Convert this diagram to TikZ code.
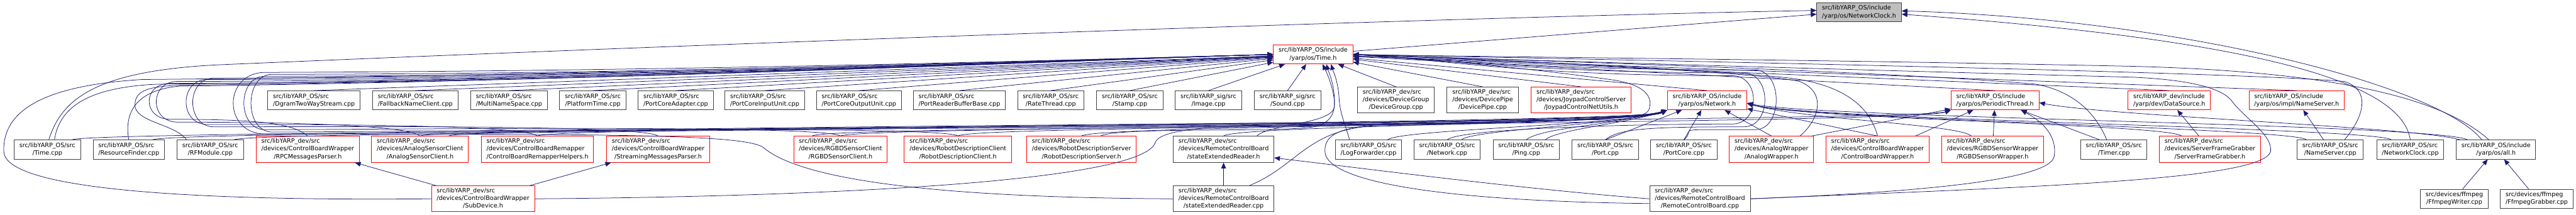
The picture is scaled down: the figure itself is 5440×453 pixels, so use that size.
\documentclass[tikz,border=0pt]{standalone}
\usepackage{fontspec}
\setmainfont{DejaVu Sans}
\usepackage{xcolor}
\usepackage{tikz}
\usetikzlibrary{arrows.meta,calc}

\definecolor{edgeblue}{HTML}{191970}
\definecolor{boxline}{HTML}{404040}
\definecolor{rootgray}{HTML}{BFBFBF}

% first lines flush left, last line centred (doxygen labels)
\newcommand{\flbl}[2]{\begin{tabular}{@{}l@{}}#1\\\multicolumn{1}{@{}c@{}}{#2}\end{tabular}}

\begin{document}
\begin{tikzpicture}[x=1pt,y=-1pt,>={Triangle[length=12pt,width=10pt]}]
  \tikzstyle{srcbox}=[draw=boxline,fill=white,line width=1.3pt,inner xsep=11pt,inner ysep=0pt,minimum height=40pt,font=\fontsize{12.8}{16}\selectfont]
  \tikzstyle{tallbox}=[srcbox,minimum height=55pt]
  \tikzstyle{trunc}=[draw=red]
  \tikzstyle{rootbox}=[fill=rootgray]
  \tikzstyle{incl}=[->,draw=edgeblue,line width=1pt]
  \useasboundingbox (0,0) rectangle (5440,453);

  % top
  \node[srcbox,rootbox] (ncH) at (3926,26) {\flbl{src/libYARP\_OS/include}{/yarp/os/NetworkClock.h}};
  \node[srcbox,trunc] (timeH) at (2773,115) {\flbl{src/libYARP\_OS/include}{/yarp/os/Time.h}};

  % row 3
  \node[srcbox] (dgram) at (663,212) {\flbl{src/libYARP\_OS/src}{/DgramTwoWayStream.cpp}};
  \node[srcbox] (fallback) at (877,212) {\flbl{src/libYARP\_OS/src}{/FallbackNameClient.cpp}};
  \node[srcbox] (multins) at (1075,212) {\flbl{src/libYARP\_OS/src}{/MultiNameSpace.cpp}};
  \node[srcbox] (plattime) at (1252,212) {\flbl{src/libYARP\_OS/src}{/PlatformTime.cpp}};
  \node[srcbox] (pcadapt) at (1427,212) {\flbl{src/libYARP\_OS/src}{/PortCoreAdapter.cpp}};
  \node[srcbox] (pcin) at (1615,212) {\flbl{src/libYARP\_OS/src}{/PortCoreInputUnit.cpp}};
  \node[srcbox] (pcout) at (1814,212) {\flbl{src/libYARP\_OS/src}{/PortCoreOutputUnit.cpp}};
  \node[srcbox] (prbb) at (2026,212) {\flbl{src/libYARP\_OS/src}{/PortReaderBufferBase.cpp}};
  \node[srcbox] (ratethr) at (2219,212) {\flbl{src/libYARP\_OS/src}{/RateThread.cpp}};
  \node[srcbox] (stamp) at (2386,212) {\flbl{src/libYARP\_OS/src}{/Stamp.cpp}};
  \node[srcbox] (image) at (2552,212) {\flbl{src/libYARP\_sig/src}{/Image.cpp}};
  \node[srcbox] (sound) at (2719,212) {\flbl{src/libYARP\_sig/src}{/Sound.cpp}};
  \node[tallbox] (devgroup) at (2948,211.5) {\flbl{src/libYARP\_dev/src\\/devices/DeviceGroup}{/DeviceGroup.cpp}};
  \node[tallbox] (devpipe) at (3131,211.5) {\flbl{src/libYARP\_dev/src\\/devices/DevicePipe}{/DevicePipe.cpp}};
  \node[tallbox,trunc] (joypad) at (3339,211.5) {\flbl{src/libYARP\_dev/src\\/devices/JoypadControlServer}{/JoypadControlNetUtils.h}};
  \node[srcbox,trunc] (netH) at (3605,212) {\flbl{src/libYARP\_OS/include}{/yarp/os/Network.h}};
  \node[srcbox,trunc] (perthrH) at (4213,212) {\flbl{src/libYARP\_OS/include}{/yarp/os/PeriodicThread.h}};
  \node[srcbox,trunc] (datasrcH) at (4581,212) {\flbl{src/libYARP\_dev/include}{/yarp/dev/DataSource.h}};
  \node[srcbox,trunc] (nsH) at (4850,212) {\flbl{src/libYARP\_OS/include}{/yarp/os/impl/NameServer.h}};

  % row 4
  \node[srcbox] (timecpp) at (100,316) {\flbl{src/libYARP\_OS/src}{/Time.cpp}};
  \node[srcbox] (resfind) at (272,316) {\flbl{src/libYARP\_OS/src}{/ResourceFinder.cpp}};
  \node[srcbox] (rfmod) at (444,316) {\flbl{src/libYARP\_OS/src}{/RFModule.cpp}};
  \node[tallbox,trunc] (rpcparse) at (650,315.5) {\flbl{src/libYARP\_dev/src\\/devices/ControlBoardWrapper}{/RPCMessagesParser.h}};
  \node[tallbox,trunc] (ansclient) at (887,315.5) {\flbl{src/libYARP\_dev/src\\/devices/AnalogSensorClient}{/AnalogSensorClient.h}};
  \node[tallbox,trunc] (cbremap) at (1135,315.5) {\flbl{src/libYARP\_dev/src\\/devices/ControlBoardRemapper}{/ControlBoardRemapperHelpers.h}};
  \node[tallbox,trunc] (streampar) at (1390,315.5) {\flbl{src/libYARP\_dev/src\\/devices/ControlBoardWrapper}{/StreamingMessagesParser.h}};
  \node[tallbox,trunc] (rgbdclient) at (1775,315.5) {\flbl{src/libYARP\_dev/src\\/devices/RGBDSensorClient}{/RGBDSensorClient.h}};
  \node[tallbox,trunc] (rdclient) at (2023,315.5) {\flbl{src/libYARP\_dev/src\\/devices/RobotDescriptionClient}{/RobotDescriptionClient.h}};
  \node[tallbox,trunc] (rdserver) at (2284,315.5) {\flbl{src/libYARP\_dev/src\\/devices/RobotDescriptionServer}{/RobotDescriptionServer.h}};
  \node[tallbox] (serH) at (2584,315.5) {\flbl{src/libYARP\_dev/src\\/devices/RemoteControlBoard}{/stateExtendedReader.h}};
  \node[srcbox] (logfwd) at (2890,316) {\flbl{src/libYARP\_OS/src}{/LogForwarder.cpp}};
  \node[srcbox] (netcpp) at (3056,316) {\flbl{src/libYARP\_OS/src}{/Network.cpp}};
  \node[srcbox] (ping) at (3223,316) {\flbl{src/libYARP\_OS/src}{/Ping.cpp}};
  \node[srcbox] (portcpp) at (3390,316) {\flbl{src/libYARP\_OS/src}{/Port.cpp}};
  \node[srcbox] (portcore) at (3556,316) {\flbl{src/libYARP\_OS/src}{/PortCore.cpp}};
  \node[tallbox,trunc] (anwrap) at (3741,315.5) {\flbl{src/libYARP\_dev/src\\/devices/AnalogWrapper}{/AnalogWrapper.h}};
  \node[tallbox,trunc] (cbwrap) at (3965,315.5) {\flbl{src/libYARP\_dev/src\\/devices/ControlBoardWrapper}{/ControlBoardWrapper.h}};
  \node[tallbox,trunc] (rgbdwrap) at (4208,315.5) {\flbl{src/libYARP\_dev/src\\/devices/RGBDSensorWrapper}{/RGBDSensorWrapper.h}};
  \node[srcbox] (timer) at (4464,316) {\flbl{src/libYARP\_OS/src}{/Timer.cpp}};
  \node[tallbox,trunc] (sfg) at (4667,315.5) {\flbl{src/libYARP\_dev/src\\/devices/ServerFrameGrabber}{/ServerFrameGrabber.h}};
  \node[srcbox] (nscpp) at (4921,316) {\flbl{src/libYARP\_OS/src}{/NameServer.cpp}};
  \node[srcbox] (ncCpp) at (5090,316) {\flbl{src/libYARP\_OS/src}{/NetworkClock.cpp}};
  \node[srcbox] (allH) at (5271,316) {\flbl{src/libYARP\_OS/include}{/yarp/os/all.h}};

  % row 5
  \node[tallbox,trunc] (subdev) at (1020,420) {\flbl{src/libYARP\_dev/src\\/devices/ControlBoardWrapper}{/SubDevice.h}};
  \node[tallbox] (sercpp) at (2584,420) {\flbl{src/libYARP\_dev/src\\/devices/RemoteControlBoard}{/stateExtendedReader.cpp}};
  \node[tallbox] (rcbcpp) at (3590,420) {\flbl{src/libYARP\_dev/src\\/devices/RemoteControlBoard}{/RemoteControlBoard.cpp}};
  \node[srcbox] (ffw) at (5183,420) {\flbl{src/devices/ffmpeg}{/FfmpegWriter.cpp}};
  \node[srcbox] (ffg) at (5357,420) {\flbl{src/devices/ffmpeg}{/FfmpegGrabber.cpp}};

  % into NetworkClock.h
  \draw[incl] (timeH) -- ([yshift=-4pt]ncH.west);
  \draw[incl] ([xshift=3pt]timecpp.north) .. controls (130,210) and (200,150) .. (460,137) .. controls (1600,88) and (3100,36) .. ([yshift=4pt]ncH.west);
  \draw[incl] (ncCpp.north) .. controls (5070,160) and (4700,80) .. ([yshift=-4pt]ncH.east);
  \draw[incl] ([xshift=-30pt]allH.north) .. controls (5150,180) and (4600,40) .. ([yshift=3pt]ncH.east);

  % into Time.h
  \foreach \s in {dgram,fallback,multins,plattime,pcadapt,pcin,pcout,prbb,ratethr,stamp,image,sound,devgroup,devpipe,joypad,netH,perthrH,datasrcH,nsH}
    \draw[incl] (\s.north) -- (timeH);
  \draw[incl] ([xshift=15pt]timecpp.north) .. controls (125,230) and (180,185) .. (330,178) .. controls (1300,168) and (2350,124) .. (timeH.west);
  \draw[incl] (resfind.north) .. controls (262,240) and (285,190) .. (380,182) .. controls (1300,170) and (2350,124) .. (timeH.west);
  \draw[incl] ([xshift=-50pt]rfmod.north) .. controls (370,262) and (285,258) .. (285,222) .. controls (285,190) and (315,183) .. (380,180) .. controls (1300,170) and (2350,124) .. (timeH.west);
  \foreach \s/\lx/\cy/\uy in {rpcparse/300/252/176,ansclient/315/258/172,cbremap/378/263/168,streampar/392/268/165,rgbdclient/500/274/161,rdclient/515/279/157}
    \draw[incl] (\s.north) .. controls +(-30,-25) and (\lx+260,\cy) .. (\lx+60,\cy) .. controls (\lx,\cy) and (\lx,\uy) .. (\lx+60,\uy) .. controls (\lx+900,\uy) and (2350,124) .. (timeH.west);
  \draw[incl] (subdev.west) .. controls (400,425) and (10,400) .. (8,320) .. controls (5,230) and (100,180) .. (300,168) .. controls (1200,160) and (2350,124) .. (timeH.west);
  \draw[incl] (sercpp.west) .. controls (2050,418) and (1700,390) .. (1610,310) .. controls (1560,284) and (1300,283) .. (560,283) .. controls (470,283) and (470,153) .. (560,153) .. controls (1500,150) and (2350,124) .. (timeH.west);
  \draw[incl] ([xshift=40pt]rdserver.north) .. controls (2360,268) and (2700,280) .. (2775,268) .. controls (2820,258) and (2822,225) .. (2815,195) .. controls (2808,165) and (2800,150) .. ([xshift=20pt]timeH.south);
  \draw[incl] ([xshift=70pt]serH.north) .. controls (2680,262) and (2815,262) .. (2818,225) .. controls (2820,180) and (2805,150) .. ([xshift=28pt]timeH.south);
  \draw[incl] ([xshift=-40pt]logfwd.north) .. controls (2840,260) and (2830,240) .. (2828,210) .. controls (2826,170) and (2815,150) .. ([xshift=38pt]timeH.south);
  \draw[incl] (ping.north) .. controls (3260,265) and (3470,262) .. (3482,232) .. controls (3492,205) and (3475,178) .. (3400,168) .. controls (3200,140) and (3000,124) .. (timeH.east);
  \foreach \s/\gx/\cy/\uy in {netcpp/3718/262/160,portcpp/3742/268/154,portcore/3766/274/148}
    \draw[incl] (\s.north) .. controls +(30,-25) and (\gx-250,\cy) .. (\gx-60,\cy) .. controls (\gx,\cy) and (\gx,\uy) .. (\gx-60,\uy) .. controls (\gx-500,\uy) and (3050,126) .. (timeH.east);
  \draw[incl] ([xshift=60pt]anwrap.north) .. controls (3840,255) and (3860,195) .. (3800,172) .. controls (3700,150) and (3100,125) .. (timeH.east);
  \draw[incl] (cbwrap.north) .. controls (3950,230) and (3900,180) .. (3780,165) .. controls (3600,145) and (3100,124) .. (timeH.east);
  \draw[incl] ([xshift=-15pt]timer.north) .. controls (4430,250) and (4390,195) .. (4300,178) .. controls (4000,150) and (3100,124) .. (timeH.east);
  \draw[incl] (rcbcpp.east) .. controls (4300,395) and (4780,380) .. (4795,320) .. controls (4800,285) and (4740,250) .. (4712,212) .. controls (4690,185) and (4620,168) .. (4500,163) .. controls (4000,150) and (3100,124) .. (timeH.east);
  \draw[incl] ([xshift=30pt]nscpp.north) .. controls (4990,250) and (5010,190) .. (4950,172) .. controls (4700,150) and (3200,122) .. (timeH.east);
  \draw[incl] ([xshift=-15pt]allH.north) .. controls (5150,200) and (4900,150) .. (4500,140) .. controls (3800,125) and (3100,120) .. (timeH.east);

  % into Network.h
  \foreach \s/\dx/\cy in {timecpp/52/270,resfind/50/266,rfmod/50/272,ansclient/60/276,cbremap/0/268,rgbdclient/-60/272,rdclient/0/270,rdserver/0/266,serH/0/262,logfwd/40/264,netcpp/30/262,ping/40/260}
    \draw[incl] ([xshift=\dx pt]\s.north) .. controls +(25,-22) and (3440,\cy) .. (netH.south west);
  \foreach \s in {portcpp,portcore,anwrap,cbwrap}
    \draw[incl] (\s.north) -- (netH);
  \foreach \s/\dx in {rgbdwrap/-45,sfg/-60,nscpp/-50,ncCpp/-40}
    \draw[incl] ([xshift=\dx pt]\s.north) .. controls +(-25,-25) and (3800,252) .. ([yshift=-6pt]netH.east);
  \draw[incl] ([xshift=-60pt]allH.north) .. controls (5150,262) and (3850,250) .. ([yshift=-6pt]netH.east);
  \draw[incl] (subdev.east) .. controls (1800,415) and (2420,380) .. (2440,300) .. controls (2455,268) and (2600,262) .. (2900,262) .. controls (3250,258) and (3460,250) .. (netH.south west);
  \draw[incl] ([xshift=55pt]sercpp.north) .. controls (2740,350) and (2760,275) .. (2900,266) .. controls (3250,260) and (3460,252) .. (netH.south west);
  \draw[incl] ([yshift=-10pt]rcbcpp.west) .. controls (3050,425) and (2800,385) .. (2798,320) .. controls (2796,275) and (2850,262) .. (3000,260) .. controls (3300,257) and (3460,250) .. (netH.south west);

  % into PeriodicThread.h
  \draw[incl] ([xshift=85pt]anwrap.north) -- (perthrH);
  \draw[incl] ([xshift=80pt]cbwrap.north) -- (perthrH);
  \draw[incl] (rgbdwrap) -- (perthrH);
  \draw[incl] ([xshift=-30pt]timer.north) -- (perthrH);
  \foreach \s/\cy in {ansclient/258,rgbdclient/262}
    \draw[incl] (\s.north) .. controls +(25,-22) and (4040,\cy) .. (perthrH.south west);
  \draw[incl] (rcbcpp.east) .. controls (4000,408) and (4330,385) .. (4338,330) .. controls (4345,285) and (4310,255) .. ([xshift=55pt]perthrH.south);
  \draw[incl] ([xshift=-75pt]allH.north) .. controls (5100,268) and (4450,245) .. ([yshift=-5pt]perthrH.east);

  % the rest
  \draw[incl] (sfg) -- (datasrcH);
  \draw[incl] (nscpp) -- (nsH);
  \draw[incl] (ffw) -- (allH);
  \draw[incl] (ffg) -- (allH);
  \draw[incl] (sercpp) -- (serH);
  \draw[incl] (rcbcpp.west) .. controls (3200,398) and (2850,352) .. ([yshift=-18pt]serH.east);
  \draw[incl] (subdev) -- (rpcparse);
  \draw[incl] (subdev) -- (streampar);
\end{tikzpicture}
\end{document}
